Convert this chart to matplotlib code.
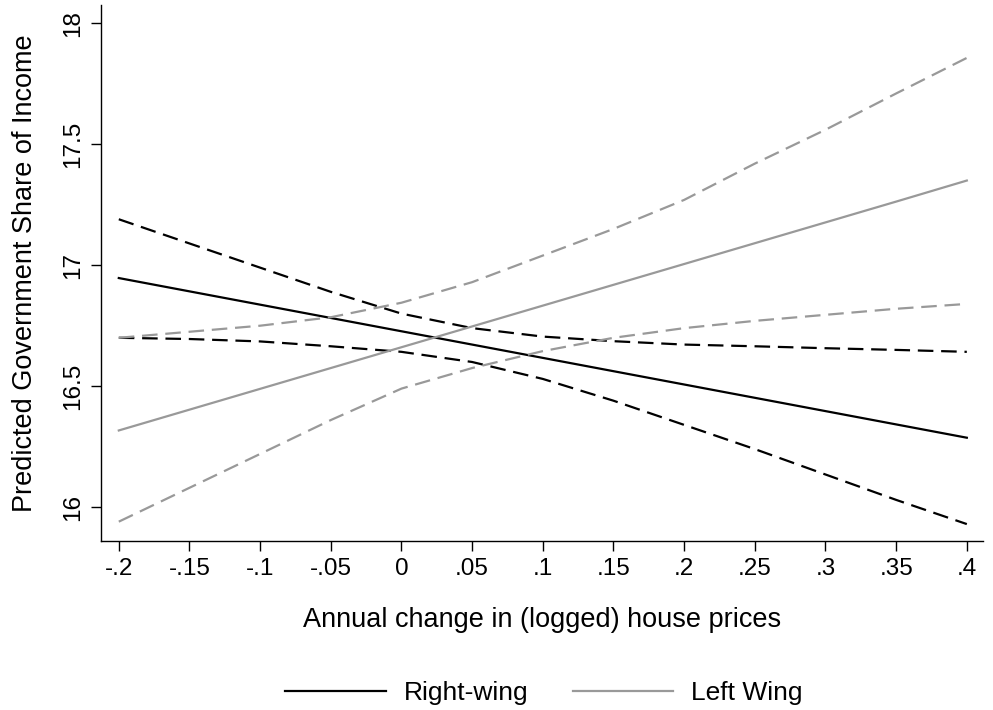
import numpy as np
import matplotlib
matplotlib.use("Agg")
import matplotlib.pyplot as plt

# x grid of the margins
price_change = [-0.2, -0.15, -0.1, -0.05, 0.0, 0.05, 0.1, 0.15, 0.2, 0.25, 0.3, 0.35, 0.4]

# Right-wing governments: prediction and 95% CI
right_fit = [16.947, 16.892, 16.837, 16.782, 16.727, 16.672, 16.617, 16.562, 16.507, 16.452, 16.397, 16.342, 16.287]
right_hi = [17.19, 17.09, 16.99, 16.89, 16.80, 16.74, 16.705, 16.686, 16.672, 16.665, 16.657, 16.65, 16.642]
right_lo = [16.70, 16.695, 16.685, 16.665, 16.642, 16.60, 16.53, 16.44, 16.34, 16.24, 16.135, 16.03, 15.93]

# Left-wing governments: prediction and 95% CI
left_fit = [16.317, 16.403, 16.489, 16.575, 16.661, 16.747, 16.833, 16.919, 17.005, 17.091, 17.177, 17.263, 17.35]
left_hi = [16.70, 16.725, 16.75, 16.785, 16.845, 16.93, 17.04, 17.15, 17.27, 17.42, 17.56, 17.71, 17.857]
left_lo = [15.94, 16.08, 16.22, 16.36, 16.49, 16.575, 16.645, 16.70, 16.74, 16.77, 16.795, 16.82, 16.84]

xticks = [-0.2, -0.15, -0.1, -0.05, 0, 0.05, 0.1, 0.15, 0.2, 0.25, 0.3, 0.35, 0.4]
xticklabels = ["-.2", "-.15", "-.1", "-.05", "0", ".05", ".1", ".15", ".2", ".25", ".3", ".35", ".4"]
yticks = [16, 16.5, 17, 17.5, 18]
yticklabels = ["16", "16.5", "17", "17.5", "18"]

plt.rcParams['font.family'] = ['Liberation Sans', 'DejaVu Sans']
fs_tick = 17.5
fs_title = 19.5
gray = '#999999'

fig = plt.figure(figsize=(9.93, 7.10), dpi=100)
ax = fig.add_axes([0.1017, 0.238, 0.8883, 0.7544])

dash = (0, (7, 3.5))
lw = 1.6
ax.plot(price_change, right_fit, color='black', lw=lw, label='Right-wing')
ax.plot(price_change, right_hi, color='black', lw=lw, linestyle=dash)
ax.plot(price_change, right_lo, color='black', lw=lw, linestyle=dash)
ax.plot(price_change, left_fit, color=gray, lw=lw, label='Left Wing')
ax.plot(price_change, left_hi, color=gray, lw=lw, linestyle=dash)
ax.plot(price_change, left_lo, color=gray, lw=lw, linestyle=dash)

ax.set_xlim(-0.2126, 0.4115)
ax.set_ylim(15.86, 18.074)
ax.set_xticks(xticks)
ax.set_xticklabels(xticklabels)
ax.set_yticks(yticks)
ax.set_yticklabels(yticklabels, rotation=90, va='center')

for s in ['top', 'right']:
    ax.spines[s].set_visible(False)
for s in ['left', 'bottom']:
    ax.spines[s].set_linewidth(1.0)
ax.tick_params(axis='both', direction='out', length=7.5, width=1.0, labelsize=fs_tick, pad=5)

ax.set_xlabel("Annual change in (logged) house prices", fontsize=fs_title, labelpad=19)
ax.set_ylabel("Predicted Government Share of Income", fontsize=fs_title, labelpad=17)

fig.legend(loc='center', bbox_to_anchor=(0.548, 0.024), ncol=2, frameon=False,
           fontsize=19, handlelength=3.8, handletextpad=0.68, columnspacing=1.7)

fig.savefig("out.png", dpi=100)
